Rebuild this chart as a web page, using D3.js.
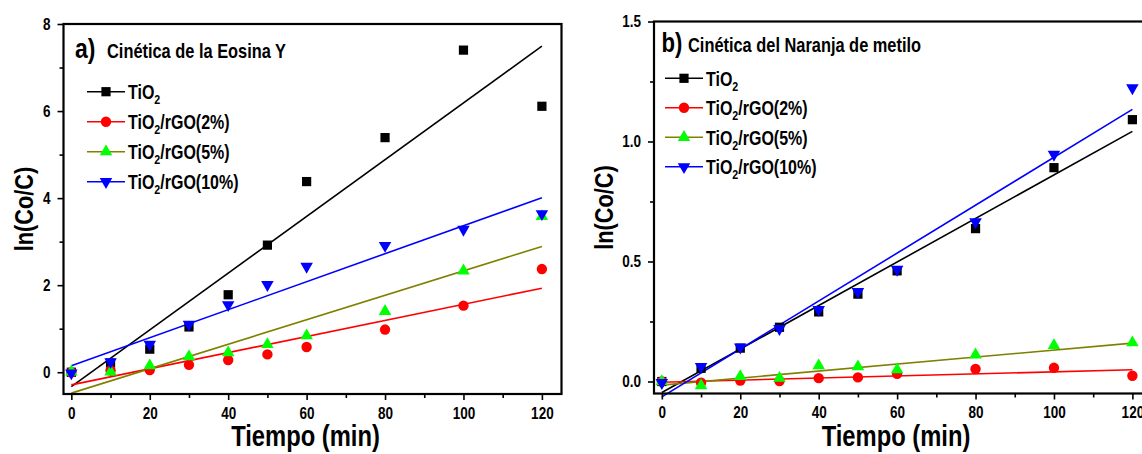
<!DOCTYPE html>
<html><head><meta charset="utf-8">
<script src="https://cdn.jsdelivr.net/npm/d3@7"></script>
<style>body{margin:0;background:#fff}</style>
</head><body><svg id="c" width="1142" height="454"></svg>
<script>
// ---- data ----
const times = [0, 10, 20, 30, 40, 50, 60, 80, 100, 120];
const seriesLabels = ["TiO2", "TiO2/rGO(2%)", "TiO2/rGO(5%)", "TiO2/rGO(10%)"];

// a) Eosina Y
const eosinTiO2  = [0, 0.21, 0.53, 1.04, 1.78, 2.92, 4.38, 5.39, 7.40, 6.11];
const eosinRGO2  = [0, 0.04, 0.05, 0.17, 0.28, 0.41, 0.58, 0.98, 1.53, 2.37];
const eosinRGO5  = [0.01, 0.01, 0.15, 0.36, 0.45, 0.64, 0.84, 1.40, 2.33, 3.58];
const eosinRGO10 = [-0.02, 0.24, 0.64, 1.10, 1.55, 2.01, 2.43, 2.91, 3.28, 3.64];

// b) Naranja de metilo
const moTiO2  = [0, 0.055, 0.139, 0.226, 0.29, 0.364, 0.461, 0.637, 0.891, 1.091];
const moRGO2  = [0, -0.005, 0.004, 0.002, 0.014, 0.017, 0.032, 0.052, 0.057, 0.024];
const moRGO5  = [0, -0.017, 0.021, 0.014, 0.066, 0.062, 0.049, 0.111, 0.150, 0.162];
const moRGO10 = [-0.005, 0.062, 0.143, 0.22, 0.30, 0.374, 0.467, 0.665, 0.946, 1.223];

// linear fit lines (values at fitTimes)
const fitTimes = [0, 120];
const eosinFitTiO2  = [-0.33, 7.49];
const eosinFitRGO2  = [-0.29, 1.93];
const eosinFitRGO5  = [-0.48, 2.89];
const eosinFitRGO10 = [0.15, 4.01];
const moFitTiO2  = [-0.046, 1.042];
const moFitRGO2  = [-0.003, 0.049];
const moFitRGO5  = [-0.015, 0.160];
const moFitRGO10 = [-0.064, 1.134];

const xTicks = [0, 20, 40, 60, 80, 100, 120];
const xMinorTicks = [10, 30, 50, 70, 90, 110];
const eosinYTicks = [0, 2, 4, 6, 8];
const eosinYMinorTicks = [1, 3, 5, 7];
const moYTicks = [0, 0.5, 1.0, 1.5];
const moYMinorTicks = [0.25, 0.75, 1.25];

// ---- styles ----
const SX = 0.82;
const FONT = "'Liberation Sans', Arial, sans-serif";
const styles = [
  {line: "#000000", fill: "#000000", shape: "square"},
  {line: "#ff0000", fill: "#ff0000", shape: "circle"},
  {line: "#808000", fill: "#00ff00", shape: "up"},
  {line: "#0000ff", fill: "#0000ff", shape: "down"}
];

const panels = [
  {
    box: {x0: 63.5, x1: 561.5, y0: 24, y1: 394},
    yDomain: [-0.5, 8], yTicks: eosinYTicks, yMinor: eosinYMinorTicks, fmt: d => d,
    data: [eosinTiO2, eosinRGO2, eosinRGO5, eosinRGO10],
    fits: [eosinFitTiO2, eosinFitRGO2, eosinFitRGO5, eosinFitRGO10],
    letter: "a)", title: "Cinética de la Eosina Y",
    letterPos: [75, 58, 28], titlePos: [107, 58],
    legend: {x: 87, y: 91.7, dy: 30}, yTitleOff: 31
  },
  {
    box: {x0: 654, x1: 1152, y0: 21.5, y1: 393.5},
    yDomain: [-0.05, 1.5], yTicks: moYTicks, yMinor: moYMinorTicks, fmt: d3.format(".1f"),
    data: [moTiO2, moRGO2, moRGO5, moRGO10],
    fits: [moFitTiO2, moFitRGO2, moFitRGO5, moFitRGO10],
    letter: "b)", title: "Cinética del Naranja de metilo",
    letterPos: [661.5, 51.5, 27], titlePos: [688, 51.5],
    legend: {x: 665, y: 78.3, dy: 29.5}, yTitleOff: 41
  }
];

const svg = d3.select("#c");

function ntext(parent, x, y, size, anchor, rot) {
  return parent.append("text")
    .attr("transform", `translate(${x},${y})${rot ? " rotate(" + rot + ")" : ""} scale(${SX},1)`)
    .attr("font-size", size).attr("font-weight", "bold")
    .attr("font-family", FONT).attr("fill", "#000")
    .attr("text-anchor", anchor || "start");
}

function marker(g, shape, x, y, fill) {
  let path, rot = 0;
  if (shape === "square") path = d3.symbol().type(d3.symbolSquare).size(85)();
  else if (shape === "circle") path = d3.symbol().type(d3.symbolCircle).size(85)();
  else { path = d3.symbol().type(d3.symbolTriangle).size(68)(); if (shape === "down") rot = 180; }
  g.append("path").attr("d", path)
    .attr("transform", `translate(${x},${y}) rotate(${rot})`)
    .attr("fill", fill);
}

function legendLabel(g, x, y, label) {
  const t = ntext(g, x, y, 19.5, "start");
  t.append("tspan").text("TiO");
  t.append("tspan").text("2").attr("font-size", 13).attr("dy", 5);
  const rest = label.slice(4);
  if (rest) t.append("tspan").text(rest).attr("dy", -5);
}

panels.forEach(p => {
  const b = p.box;
  const x = d3.scaleLinear().domain([-2, 125]).range([b.x0, b.x1]);
  const y = d3.scaleLinear().domain(p.yDomain).range([b.y1, b.y0]);
  const g = svg.append("g");

  // fit lines
  const line = d3.line().x(d => x(d[0])).y(d => y(d[1]));
  p.fits.forEach((f, i) => {
    g.append("path").datum(fitTimes.map((t, k) => [t, f[k]]))
      .attr("d", line).attr("fill", "none")
      .attr("stroke", styles[i].line).attr("stroke-width", 1.6);
  });

  // points
  p.data.forEach((vals, i) => {
    const sg = g.append("g");
    vals.forEach((v, k) => marker(sg, styles[i].shape, x(times[k]), y(v), styles[i].fill));
  });

  // axes
  const ax = g.append("g").attr("transform", `translate(0,${b.y1})`)
    .call(d3.axisBottom(x).tickValues(xTicks).tickSize(6).tickPadding(7));
  ax.select(".domain").remove();
  ax.selectAll("line").attr("stroke-width", 1.6);
  ax.selectAll("text").attr("font-size", 16.5).attr("font-weight", "bold")
    .attr("font-family", FONT).attr("transform", `scale(${SX},1)`);
  const axm = g.append("g").attr("transform", `translate(0,${b.y1})`)
    .call(d3.axisBottom(x).tickValues(xMinorTicks).tickSize(4).tickFormat(""));
  axm.select(".domain").remove();
  axm.selectAll("line").attr("stroke-width", 1.6);

  const ay = g.append("g").attr("transform", `translate(${b.x0},0)`)
    .call(d3.axisLeft(y).tickValues(p.yTicks).tickSize(6).tickFormat(p.fmt));
  ay.select(".domain").remove();
  ay.selectAll("line").attr("stroke-width", 1.6);
  ay.selectAll("text").attr("font-size", 16.5).attr("font-weight", "bold")
    .attr("font-family", FONT).attr("x", -13 / SX).attr("transform", `scale(${SX},1)`);
  const aym = g.append("g").attr("transform", `translate(${b.x0},0)`)
    .call(d3.axisLeft(y).tickValues(p.yMinor).tickSize(4).tickFormat(""));
  aym.select(".domain").remove();
  aym.selectAll("line").attr("stroke-width", 1.6);

  // frame
  g.append("rect").attr("x", b.x0).attr("y", b.y0)
    .attr("width", b.x1 - b.x0).attr("height", b.y1 - b.y0)
    .attr("fill", "none").attr("stroke", "#000").attr("stroke-width", 2.2);

  // axis titles
  ntext(g, (b.x0 + b.x1) / 2 - 7, 446, 29, "middle").text("Tiempo (min)");
  ntext(g, b.x0 - p.yTitleOff, (b.y0 + b.y1) / 2, 26.5, "middle", -90).text("ln(Co/C)");

  // panel title
  ntext(g, p.letterPos[0], p.letterPos[1], p.letterPos[2], "start").text(p.letter);
  ntext(g, p.titlePos[0], p.titlePos[1], 20, "start").text(p.title);

  // legend
  const L = p.legend;
  seriesLabels.forEach((lab, i) => {
    const yy = L.y + i * L.dy;
    g.append("line").attr("x1", L.x).attr("x2", L.x + 38).attr("y1", yy).attr("y2", yy)
      .attr("stroke", styles[i].line).attr("stroke-width", 1.6);
    marker(g, styles[i].shape, L.x + 19, yy, styles[i].fill);
    legendLabel(g, L.x + 41, yy + 7.5, lab);
  });
});
</script>
</body></html>
